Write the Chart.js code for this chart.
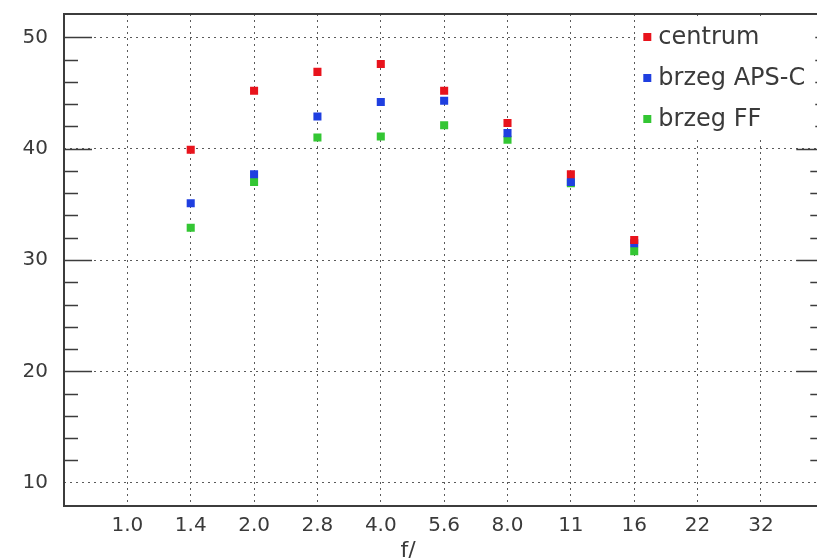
<!DOCTYPE html>
<html>
<head>
<meta charset="utf-8">
<script src="https://cdn.jsdelivr.net/npm/chart.js@4/dist/chart.umd.min.js"></script>
<style>
  html, body { margin: 0; padding: 0; background: #fff; overflow: hidden; }
  #wrap { width: 817px; height: 558px; overflow: hidden; position: relative; }
  canvas { display: block; }
</style>
</head>
<body>
<div id="wrap"><canvas id="chart" width="830" height="570"></canvas></div>
<script>
// f-stops on the x axis (positions 1..11)
const fStops = ['1.0', '1.4', '2.0', '2.8', '4.0', '5.6', '8.0', '11', '16', '22', '32'];
const yTicks = [10, 20, 30, 40, 50];

const centrum = [null, 39.9, 45.2, 46.9, 47.6, 45.2, 42.3, 37.7, 31.8, null, null];
const brzegApsc = [null, 35.1, 37.7, 42.9, 44.2, 44.3, 41.4, 37.0, 31.5, null, null];
const brzegFF = [null, 32.9, 37.0, 41.0, 41.1, 42.1, 40.8, 36.9, 30.8, null, null];

const seriesNames = ['centrum', 'brzeg APS-C', 'brzeg FF'];
const seriesColors = ['#e8131c', '#1f3fe0', '#33c633'];

const FONT = '"DejaVu Sans", "Liberation Sans", sans-serif';
const INK = '#3a3a3a';

function toPoints(values) {
  return values
    .map((v, i) => (v === null ? null : { x: i + 1, y: v }))
    .filter(p => p !== null);
}

const datasets = [centrum, brzegApsc, brzegFF].map((values, i) => ({
  label: seriesNames[i],
  data: toPoints(values),
  backgroundColor: seriesColors[i],
  borderColor: seriesColors[i],
  borderWidth: 0,
  pointStyle: 'rect',
  pointRadius: 5.7,
  pointHoverRadius: 5.7,
  showLine: false,
}));

// frame + inward tick marks on left and right
const framePlugin = {
  id: 'frame',
  beforeDatasetsDraw(chart) {
    const { ctx, chartArea: a, scales } = chart;
    const y = scales.y;
    ctx.save();
    ctx.strokeStyle = '#3c3c3c';
    ctx.lineWidth = 2;
    ctx.strokeRect(a.left, a.top, a.right - a.left, a.bottom - a.top);
    ctx.lineWidth = 1.6;
    for (let v = 12; v <= 50; v += 2) {
      const len = v % 10 === 0 ? 28 : 14;
      const py = Math.round(y.getPixelForValue(v)) + 0.5;
      ctx.beginPath();
      ctx.moveTo(a.left, py);
      ctx.lineTo(a.left + len, py);
      ctx.moveTo(a.right, py);
      ctx.lineTo(a.right - len, py);
      ctx.stroke();
    }
    ctx.restore();
  },
};

// legend inside the plot, over a white box, plus the x title
const legendPlugin = {
  id: 'insideLegend',
  afterDatasetsDraw(chart) {
    const { ctx, chartArea: a } = chart;
    ctx.save();
    ctx.fillStyle = '#fff';
    ctx.fillRect(a.right - 189, a.top + 2, 180, 124);
    ctx.font = '24px ' + FONT;
    ctx.textBaseline = 'alphabetic';
    chart.data.datasets.forEach((ds, i) => {
      const cy = a.top + 23 + i * 41;
      const mx = a.right - 177;
      ctx.fillStyle = ds.backgroundColor;
      ctx.fillRect(mx - 4, cy - 4, 8, 8);
      ctx.fillStyle = INK;
      ctx.fillText(ds.label, mx + 11, cy + 7);
    });
    ctx.font = '22px ' + FONT;
    ctx.textAlign = 'center';
    ctx.textBaseline = 'middle';
    ctx.fillStyle = INK;
    ctx.fillText('f/', (a.left + a.right) / 2 - 36, a.bottom + 45);
    ctx.restore();
  },
};

new Chart(document.getElementById('chart'), {
  type: 'scatter',
  data: { datasets },
  options: {
    responsive: false,
    animation: false,
    devicePixelRatio: 1,
    layout: { padding: { top: 14, right: 5, left: 0, bottom: 0 } },
    plugins: { legend: { display: false }, tooltip: { enabled: false } },
    scales: {
      x: {
        type: 'linear',
        min: 0,
        max: 12,
        afterFit: s => { s.height = 64; s.paddingLeft = 0; s.paddingRight = 0; },
        afterBuildTicks: s => { s.ticks = fStops.map((_, i) => ({ value: i + 1 })); },
        ticks: {
          callback: v => fStops[v - 1] || '',
          font: { family: FONT, size: 20 },
          color: INK,
          padding: 8,
          maxRotation: 0,
          autoSkip: false,
        },
        grid: { color: '#5a5a5a', lineWidth: 1, drawTicks: false },
        border: { display: false, dash: [2, 4] },
      },
      y: {
        min: 7.9,
        max: 52.1,
        afterFit: s => { s.width = 64; s.paddingTop = 0; s.paddingBottom = 0; },
        afterBuildTicks: s => { s.ticks = yTicks.map(v => ({ value: v })); },
        ticks: {
          font: { family: FONT, size: 20 },
          color: INK,
          padding: 16,
        },
        grid: { color: '#5a5a5a', lineWidth: 1, drawTicks: false },
        border: { display: false, dash: [2, 4] },
      },
    },
  },
  plugins: [framePlugin, legendPlugin],
});
</script>
</body>
</html>
